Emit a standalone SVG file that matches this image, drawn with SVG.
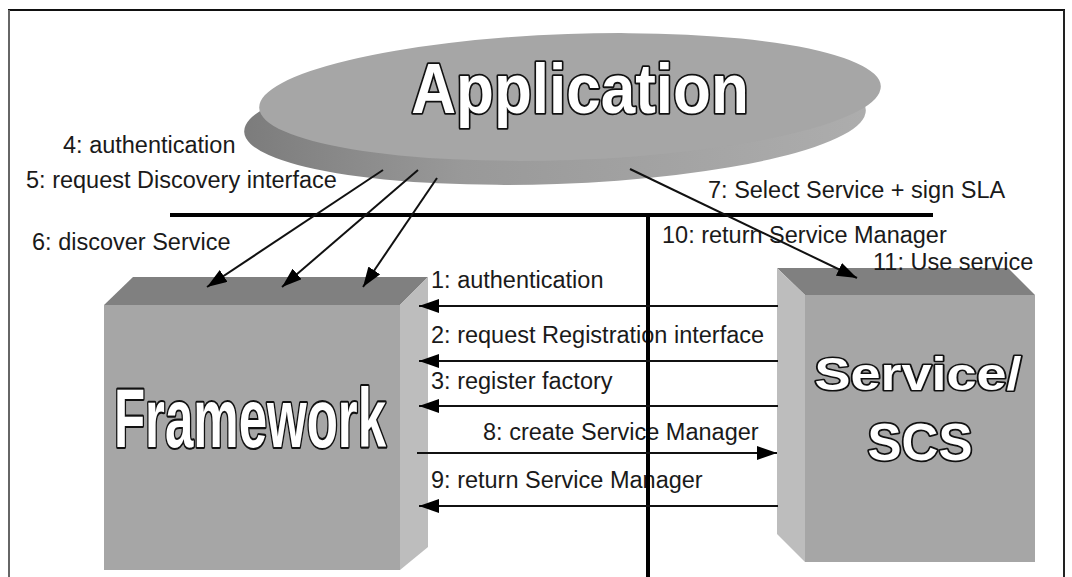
<svg xmlns="http://www.w3.org/2000/svg" width="1072" height="577" viewBox="0 0 1072 577">
  <style>
    .lbl { font-family: "Liberation Sans", Arial, sans-serif; font-size: 23.5px; fill: #1a1a1a; }
    .big { font-family: "Liberation Sans", Arial, sans-serif; font-weight: bold; fill: #ffffff; stroke: #111111; stroke-width: 3.5; paint-order: stroke; stroke-linejoin: round; vector-effect: non-scaling-stroke; text-anchor: middle; }
    .conn { stroke: #111111; stroke-width: 2; fill: none; }
    .bus { stroke: #000000; stroke-width: 4; fill: none; }
    .top { fill: #808080; }
    .front { fill: #a6a6a6; }
    .side { fill: #bdbdbd; }
  </style>
  <defs>
    <marker id="ah" markerUnits="userSpaceOnUse" markerWidth="20" markerHeight="14" refX="20" refY="7" orient="auto">
      <path d="M0,0 L20,7 L0,14 Z" fill="#000000"/>
    </marker>
    <linearGradient id="disk" x1="0" y1="0" x2="1" y2="0">
      <stop offset="0" stop-color="#7c7c7c"/>
      <stop offset="0.35" stop-color="#999999"/>
      <stop offset="1" stop-color="#adadad"/>
    </linearGradient>
  </defs>
  <rect x="0" y="0" width="1072" height="577" fill="#ffffff"/>
  <g id="frame">
    <line x1="8" y1="10" x2="1065" y2="10" stroke="#111" stroke-width="2"/>
    <line x1="9" y1="10" x2="9" y2="577" stroke="#666" stroke-width="2"/>
    <line x1="1064" y1="10" x2="1064" y2="577" stroke="#222" stroke-width="2"/>
  </g>
  <g id="application">
    <ellipse cx="555" cy="121" rx="311" ry="63" transform="rotate(-2 555 121)" fill="url(#disk)"/>
    <ellipse cx="570" cy="97" rx="311" ry="63" transform="rotate(-2 570 97)" fill="#a6a6a6"/>
    <text class="big" font-size="62" transform="translate(580 113) scale(1 1.13)">Application</text>
  </g>
  <g id="framework">
    <polygon class="top" points="104,305 133,277 428,277 400,305"/>
    <polygon class="side" points="400,305 428,277 428,547 400,570"/>
    <rect class="front" x="104" y="305" width="296" height="265"/>
    <text class="big" font-size="51" transform="translate(250 447) scale(1 1.62)">Framework</text>
  </g>
  <g id="service">
    <polygon class="top" points="777,268 1008,268 1035,295 805,295"/>
    <polygon class="side" points="777,268 805,295 805,562 777,534"/>
    <rect class="front" x="805" y="295" width="230" height="267"/>
    <text class="big" font-size="54" transform="translate(918 390) scale(1 0.86)">Service/</text>
    <text class="big" font-size="51" x="920" y="460">SCS</text>
  </g>
  <g id="labels">
    <text class="lbl" x="63" y="153">4: authentication</text>
    <text class="lbl" x="26" y="188">5: request Discovery interface</text>
    <text class="lbl" x="32" y="250">6: discover Service</text>
    <text class="lbl" x="708" y="198">7: Select Service + sign SLA</text>
    <text class="lbl" x="662" y="243">10: return Service Manager</text>
    <text class="lbl" x="873" y="270">11: Use service</text>
    <text class="lbl" x="431" y="288">1: authentication</text>
    <text class="lbl" x="431" y="343">2: request Registration interface</text>
    <text class="lbl" x="431" y="389">3: register factory</text>
    <text class="lbl" x="483" y="440">8: create Service Manager</text>
    <text class="lbl" x="431" y="488">9: return Service Manager</text>
  </g>
  <g id="connectors">
    <line class="bus" x1="170" y1="215" x2="933" y2="215"/>
    <line class="bus" x1="648" y1="215" x2="648" y2="577"/>
    <path class="conn" d="M383,170 L207,287" marker-end="url(#ah)"/>
    <path class="conn" d="M418,170 L282,287" marker-end="url(#ah)"/>
    <path class="conn" d="M437,178 L363,287" marker-end="url(#ah)"/>
    <path class="conn" d="M630,169 L857,278" marker-end="url(#ah)"/>
    <path class="conn" d="M778,306 L419,306" marker-end="url(#ah)"/>
    <path class="conn" d="M778,361 L419,361" marker-end="url(#ah)"/>
    <path class="conn" d="M778,406 L419,406" marker-end="url(#ah)"/>
    <path class="conn" d="M417,453 L777,453" marker-end="url(#ah)"/>
    <path class="conn" d="M778,506 L419,506" marker-end="url(#ah)"/>
  </g>
</svg>
